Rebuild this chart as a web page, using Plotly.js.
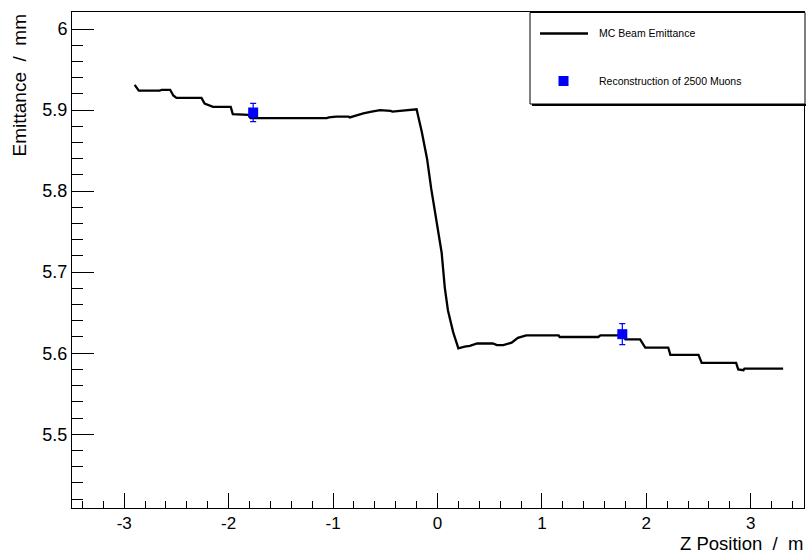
<!DOCTYPE html>
<html>
<head>
<meta charset="utf-8">
<script src="https://cdn.plot.ly/plotly-3.0.1.min.js"></script>
<style>
html,body{margin:0;padding:0;background:#fff;}
#chart{width:806px;height:553px;}
</style>
</head>
<body>
<div id="chart"></div>
<script>
// MC beam emittance along Z
var mcZ = [-2.90,-2.88,-2.86,-2.66,-2.64,-2.56,-2.53,-2.50,-2.26,-2.23,-2.15,-1.98,-1.96,-1.81,-1.79,
  -1.06,-1.04,-0.97,-0.85,-0.84,-0.77,-0.71,-0.63,-0.55,-0.45,-0.43,-0.36,-0.22,-0.20,
  -0.15,-0.10,-0.06,-0.01,0.04,0.07,0.10,0.15,0.20,0.26,0.31,0.38,0.53,0.57,0.63,0.71,0.77,0.85,
  1.16,1.17,1.54,1.56,1.78,1.80,1.94,1.99,2.21,2.23,2.50,2.53,2.86,2.88,2.93,2.94,3.31];
var mcEmit = [5.931,5.928,5.924,5.924,5.925,5.925,5.918,5.915,5.915,5.908,5.904,5.904,5.895,5.894,5.890,
  5.890,5.891,5.892,5.892,5.891,5.894,5.896,5.898,5.900,5.899,5.898,5.899,5.901,5.901,
  5.873,5.840,5.803,5.763,5.724,5.681,5.653,5.626,5.606,5.608,5.609,5.612,5.612,5.610,5.610,5.613,5.619,5.622,
  5.622,5.620,5.620,5.622,5.622,5.617,5.617,5.607,5.607,5.598,5.598,5.588,5.588,5.580,5.579,5.581,5.581];

// Reconstruction of 2500 muons
var recoZ = [-1.765, 1.77];
var recoEmit = [5.897, 5.6235];
var recoErr = [0.0112, 0.0129];

// Tick labels
var xTickVals = [-3,-2,-1,0,1,2,3];
var xTickText = ["-3","-2","-1","0","1","2","3"];
var yTickVals = [5.5,5.6,5.7,5.8,5.9,6.0];
var yTickText = ["5.5","5.6","5.7","5.8","5.9","6"];

var legendLabels = ["MC Beam Emittance", "Reconstruction of 2500 Muons"];
var xTitle = "Z Position  /  m";
var yTitle = "Emittance  /  mm";

var FONT = "Liberation Sans, Arial, Helvetica, sans-serif";

var traces = [
  {x: mcZ, y: mcEmit, type: 'scatter', mode: 'lines',
   line: {color: '#000', width: 2.3}, showlegend: false, hoverinfo: 'skip'},
  {x: recoZ, y: recoEmit, type: 'scatter', mode: 'markers',
   marker: {symbol: 'square', size: 10, color: 'rgb(0,0,255)'},
   error_y: {type: 'data', array: recoErr, visible: true, color: 'rgb(0,0,255)', thickness: 1.2, width: 3},
   showlegend: false}
];

// helpers for legend (paper coords)
var L = 72, R = 2, T = 12, B = 45, W = 806, H = 553;
function px(xp){ return (xp - L) / (W - L - R); }
function py(yp){ return (H - B - yp) / (H - T - B); }

var layout = {
  width: W, height: H,
  margin: {l: L, r: R, t: T, b: B, pad: 0},
  paper_bgcolor: '#fff', plot_bgcolor: '#fff',
  font: {family: FONT, color: '#000', size: 18},
  showlegend: false,
  xaxis: {
    range: [-3.5, 3.51], showgrid: false, zeroline: false,
    showline: true, linecolor: '#000', linewidth: 1, mirror: true,
    tickmode: 'array', tickvals: xTickVals, ticktext: xTickText,
    ticks: 'inside', ticklen: 15, tickwidth: 1, tickcolor: '#000',
    tickfont: {family: FONT, size: 17, color: '#000'},
    minor: {dtick: 0.2, tick0: 0, ticks: 'inside', ticklen: 7.5, tickwidth: 1, tickcolor: '#000', showgrid: false}
  },
  yaxis: {
    range: [5.409, 6.021], showgrid: false, zeroline: false,
    showline: true, linecolor: '#000', linewidth: 1, mirror: true,
    tickmode: 'array', tickvals: yTickVals, ticktext: yTickText,
    ticks: 'inside', ticklen: 22, tickwidth: 1, tickcolor: '#000',
    tickfont: {family: FONT, size: 18, color: '#000'},
    minor: {dtick: 0.02, tick0: 0, ticks: 'inside', ticklen: 11, tickwidth: 1, tickcolor: '#000', showgrid: false}
  },
  shapes: [
    // legend shadow
    {type: 'rect', xref: 'paper', yref: 'paper', x0: px(532), x1: px(806), y0: py(106), y1: py(104),
     line: {width: 0}, fillcolor: '#000'},
    // legend box
    {type: 'rect', xref: 'paper', yref: 'paper', x0: px(530), x1: px(805), y0: py(104), y1: py(12.5),
     line: {color: '#000', width: 1}, fillcolor: '#fff'},
    // legend line sample
    {type: 'line', xref: 'paper', yref: 'paper', x0: px(540), x1: px(588), y0: py(33.5), y1: py(33.5),
     line: {color: '#000', width: 2.3}},
    // legend marker sample
    {type: 'rect', xref: 'paper', yref: 'paper', x0: px(558.5), x1: px(568.5), y0: py(86), y1: py(76),
     line: {width: 0}, fillcolor: 'rgb(0,0,255)'}
  ],
  annotations: [
    {xref: 'paper', yref: 'paper', x: px(597), y: py(33.5), xanchor: 'left', yanchor: 'middle',
     text: legendLabels[0], showarrow: false, font: {family: FONT, size: 10.5, color: '#000'}},
    {xref: 'paper', yref: 'paper', x: px(597), y: py(81), xanchor: 'left', yanchor: 'middle',
     text: legendLabels[1], showarrow: false, font: {family: FONT, size: 10.5, color: '#000'}},
    {xref: 'paper', yref: 'paper', x: 1.0, y: py(543.5), xanchor: 'right', yanchor: 'middle',
     text: xTitle, showarrow: false, borderpad: 0, font: {family: FONT, size: 18.5, color: '#000'}},
    {xref: 'paper', yref: 'paper', x: px(19), y: py(12), xanchor: 'center', yanchor: 'top',
     text: yTitle, textangle: -90, showarrow: false, font: {family: FONT, size: 19, color: '#000'}}
  ]
};

Plotly.newPlot('chart', traces, layout, {staticPlot: true, displayModeBar: false});
</script>
</body>
</html>
